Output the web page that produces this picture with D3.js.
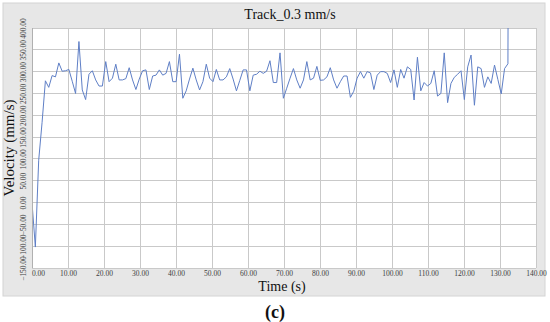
<!DOCTYPE html>
<html>
<head>
<meta charset="utf-8">
<script src="https://cdn.jsdelivr.net/npm/d3@7"></script>
<style>
  body { margin: 0; background: #fff; }
  svg { display: block; }
</style>
</head>
<body>
<div id="chart"></div>
<script>
// chart text
const chartTitle = "Track_0.3 mm/s";
const xTitle = "Time (s)";
const yTitle = "Velocity (mm/s)";
const panelLabel = "(c)";

// axis ticks
const xTicks = [0, 10, 20, 30, 40, 50, 60, 70, 80, 90, 100, 110, 120, 130, 140];
const yTicks = [-150, -100, -50, 0, 50, 100, 150, 200, 250, 300, 350, 400];

// sampling step of the logger (s)
const sampleStep = 0.931;

// velocity samples (mm/s)
const velocity = [
  0, -102, 97, 183, 279, 264, 291, 288, 320, 301,
  302, 305, 278, 250, 369, 258, 236, 294, 302, 281,
  267, 267, 323, 277, 285, 317, 281, 281, 284, 309,
  281, 259, 283, 302, 304, 259, 290, 292, 304, 292,
  296, 323, 277, 277, 340, 239, 256, 283, 308, 281,
  258, 277, 317, 285, 277, 305, 281, 281, 288, 307,
  283, 256, 280, 304, 304, 256, 292, 294, 301, 296,
  301, 325, 275, 275, 343, 239, 262, 285, 307, 281,
  262, 281, 323, 281, 285, 312, 280, 281, 288, 309,
  281, 262, 277, 290, 290, 241, 255, 285, 300, 285,
  300, 297, 259, 292, 300, 300, 296, 275, 304, 264,
  305, 285, 311, 305, 235, 333, 256, 275, 267, 273,
  302, 244, 250, 343, 229, 273, 287, 294, 302, 236,
  311, 338, 223, 311, 307, 264, 288, 273, 315, 282,
  249, 307, 318, 3000
];

const data = velocity.map((v, i) => ({t: i * sampleStep, v: v}));

const W = 550, H = 322;
const panel = {x: 3, y: 3, w: 542, h: 293};
const plot = {left: 32, top: 28, right: 536, bottom: 268};
const serif = "'Liberation Serif', 'DejaVu Serif', serif";

const svg = d3.select("#chart").append("svg")
    .attr("width", W)
    .attr("height", H);

svg.append("rect")
    .attr("width", W).attr("height", H)
    .attr("fill", "#fff");

// grey chart panel
svg.append("rect")
    .attr("x", panel.x).attr("y", panel.y)
    .attr("width", panel.w).attr("height", panel.h)
    .attr("fill", "#e7e7e7")
    .attr("stroke", "#d4d4d4");

const x = d3.scaleLinear().domain([0, 140]).range([plot.left, plot.right]);
const y = d3.scaleLinear().domain([-150, 400]).range([plot.bottom, plot.top]);

// plot area
svg.append("rect")
    .attr("x", plot.left).attr("y", plot.top)
    .attr("width", plot.right - plot.left)
    .attr("height", plot.bottom - plot.top)
    .attr("fill", "#fff");

// grid
const grid = svg.append("g")
    .attr("stroke", "#c9c9c9")
    .attr("stroke-width", 1)
    .attr("shape-rendering", "crispEdges");

grid.selectAll("line.v")
  .data(xTicks)
  .join("line")
    .attr("class", "v")
    .attr("x1", d => x(d)).attr("x2", d => x(d))
    .attr("y1", plot.top).attr("y2", plot.bottom);

grid.selectAll("line.h")
  .data(yTicks)
  .join("line")
    .attr("class", "h")
    .attr("x1", plot.left).attr("x2", plot.right)
    .attr("y1", d => y(d)).attr("y2", d => y(d));

// x axis labels
const xAxis = svg.append("g")
    .attr("transform", `translate(0,${plot.bottom})`)
    .call(d3.axisBottom(x).tickValues(xTicks).tickSize(0).tickPadding(3)
      .tickFormat(d => d3.format(".2f")(d)));
xAxis.select(".domain").remove();
xAxis.selectAll("text")
    .attr("font-family", serif)
    .attr("font-size", 7.5)
    .attr("fill", "#404040")
    .attr("dx", d => d === 0 ? 6 : 0);

// y axis labels (rotated)
const yAxis = svg.append("g")
    .attr("transform", `translate(${plot.left},0)`)
    .call(d3.axisLeft(y).tickValues(yTicks).tickSize(0).tickPadding(0)
      .tickFormat(d => d3.format(".2f")(d)));
yAxis.select(".domain").remove();
yAxis.selectAll("text")
    .attr("font-family", serif)
    .attr("font-size", 7.4)
    .attr("fill", "#404040")
    .attr("x", null).attr("dy", null)
    .attr("text-anchor", "middle")
    .attr("transform", "translate(-6,0) rotate(-90)");

// clip for the line
svg.append("clipPath").attr("id", "clip")
  .append("rect")
    .attr("x", plot.left).attr("y", plot.top)
    .attr("width", plot.right - plot.left)
    .attr("height", plot.bottom - plot.top);

const line = d3.line().x(d => x(d.t)).y(d => y(d.v));

svg.append("path")
    .datum(data)
    .attr("clip-path", "url(#clip)")
    .attr("fill", "none")
    .attr("stroke", "#5f7fc6")
    .attr("stroke-width", 1)
    .attr("d", line);

// left axis line
svg.append("line")
    .attr("x1", plot.left).attr("x2", plot.left)
    .attr("y1", plot.top).attr("y2", plot.bottom)
    .attr("stroke", "#b0b0b0")
    .attr("shape-rendering", "crispEdges");

// titles
svg.append("text")
    .attr("x", 290).attr("y", 19)
    .attr("text-anchor", "middle")
    .attr("font-family", serif)
    .attr("font-size", 14)
    .attr("fill", "#111")
    .text(chartTitle);

svg.append("text")
    .attr("x", 282).attr("y", 291)
    .attr("text-anchor", "middle")
    .attr("font-family", serif)
    .attr("font-size", 14)
    .attr("fill", "#111")
    .text(xTitle);

svg.append("text")
    .attr("transform", `translate(14,${(plot.top + plot.bottom) / 2}) rotate(-90)`)
    .attr("text-anchor", "middle")
    .attr("font-family", serif)
    .attr("font-size", 15)
    .attr("fill", "#111")
    .text(yTitle);

svg.append("text")
    .attr("x", 275).attr("y", 318)
    .attr("text-anchor", "middle")
    .attr("font-family", serif)
    .attr("font-size", 18)
    .attr("font-weight", "bold")
    .attr("fill", "#111")
    .text(panelLabel);
</script>
</body>
</html>
